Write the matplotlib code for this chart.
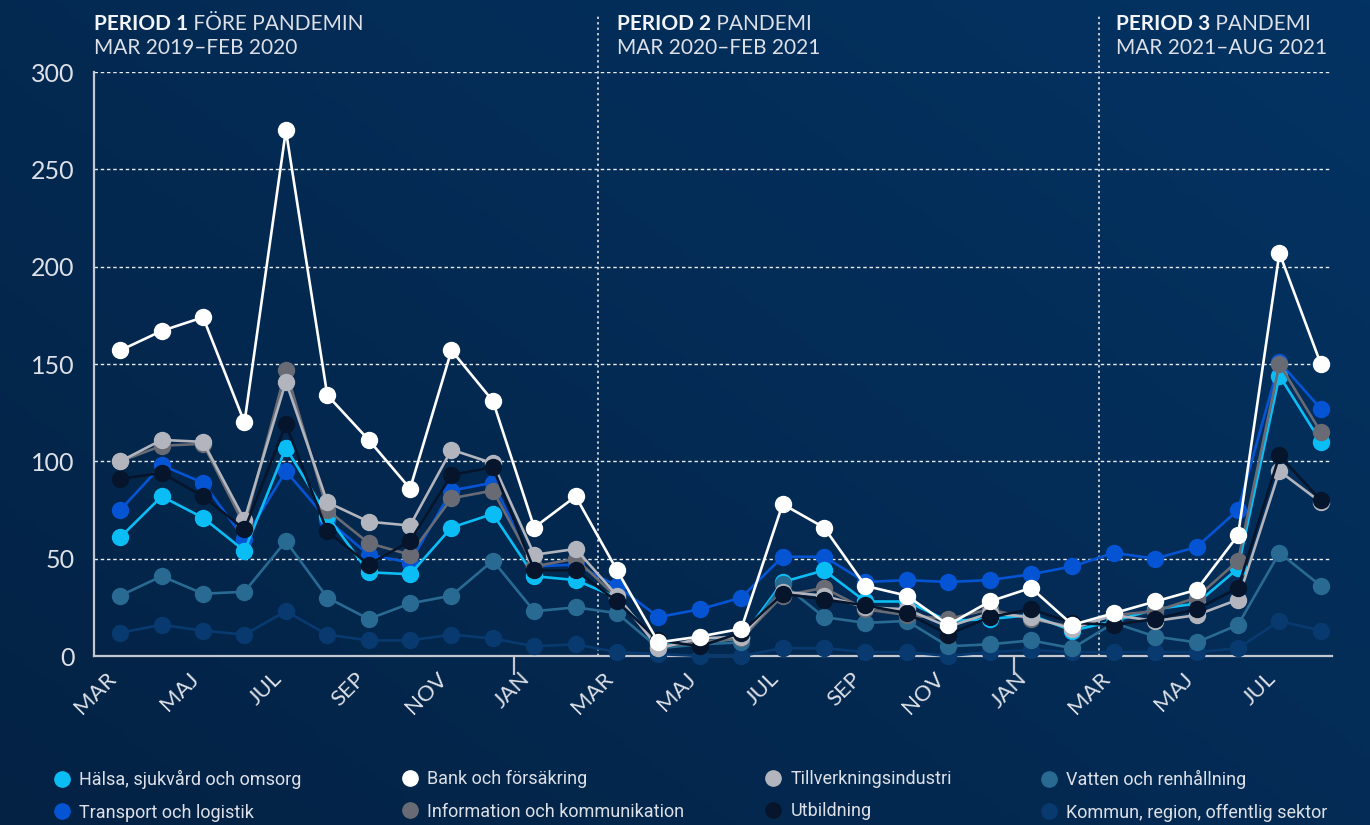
import matplotlib.pyplot as plt
import numpy as np

# months Mar 2019 - Aug 2021
months = ['MAR', 'APR', 'MAJ', 'JUN', 'JUL', 'AUG', 'SEP', 'OKT', 'NOV', 'DEC', 'JAN', 'FEB'] * 2 + \
         ['MAR', 'APR', 'MAJ', 'JUN', 'JUL', 'AUG']

halsa = [61, 82, 71, 54, 107, 72, 43, 42, 66, 73, 41, 39, 30, 6, 7, 9, 38, 44, 28, 28,
         18, 19, 21, 13, 18, 24, 27, 45, 144, 110]
transport = [75, 98, 89, 60, 95, 70, 52, 48, 85, 89, 46, 47, 36, 20, 24, 30, 51, 51, 38, 39,
             38, 39, 42, 46, 53, 50, 56, 75, 151, 127]
bank = [157, 167, 174, 120, 270, 134, 111, 86, 157, 131, 66, 82, 44, 7, 10, 14, 78, 66, 36, 31,
        16, 28, 35, 16, 22, 28, 34, 62, 207, 150]
information = [100, 108, 109, 67, 147, 75, 58, 52, 81, 85, 46, 50, 30, 5, 7, 9, 31, 35, 24, 21,
               19, 24, 19, 15, 21, 23, 30, 49, 150, 115]
tillverkning = [100, 111, 110, 70, 141, 79, 69, 67, 106, 99, 52, 55, 31, 4, 9, 10, 33, 31, 25, 24,
                15, 22, 20, 14, 21, 18, 21, 29, 95, 79]
utbildning = [91, 94, 82, 65, 119, 64, 47, 59, 93, 97, 44, 44, 28, 8, 5, 12, 32, 29, 26, 22,
              11, 20, 24, 17, 16, 19, 24, 35, 103, 80]
vatten = [31, 41, 32, 33, 59, 30, 19, 27, 31, 49, 23, 25, 22, 4, 6, 7, 37, 20, 17, 18,
          5, 6, 8, 4, 17, 10, 7, 16, 53, 36]
kommun = [12, 16, 13, 11, 23, 11, 8, 8, 11, 9, 5, 6, 2, 1, 0, 0, 4, 4, 2, 2,
          0, 2, 3, 2, 2, 2, 2, 4, 18, 13]

names = ['Hälsa, sjukvård och omsorg', 'Transport och logistik', 'Bank och försäkring',
         'Information och kommunikation', 'Tillverkningsindustri', 'Utbildning',
         'Vatten och renhållning', 'Kommun, region, offentlig sektor']
colors = {
    'Hälsa, sjukvård och omsorg': '#0bbdf5',
    'Transport och logistik': '#0454d4',
    'Bank och försäkring': '#ffffff',
    'Information och kommunikation': '#686b73',
    'Tillverkningsindustri': '#b2b5bd',
    'Utbildning': '#06152b',
    'Vatten och renhållning': '#286a92',
    'Kommun, region, offentlig sektor': '#083a70',
}
series = {
    'Hälsa, sjukvård och omsorg': halsa,
    'Transport och logistik': transport,
    'Bank och försäkring': bank,
    'Information och kommunikation': information,
    'Tillverkningsindustri': tillverkning,
    'Utbildning': utbildning,
    'Vatten och renhållning': vatten,
    'Kommun, region, offentlig sektor': kommun,
}
draw_order = ['Kommun, region, offentlig sektor', 'Transport och logistik',
              'Hälsa, sjukvård och omsorg', 'Vatten och renhållning',
              'Information och kommunikation', 'Tillverkningsindustri',
              'Utbildning', 'Bank och försäkring']

periods = [('PERIOD 1', ' FÖRE PANDEMIN', 'MAR 2019–FEB 2020'),
           ('PERIOD 2', ' PANDEMI', 'MAR 2020–FEB 2021'),
           ('PERIOD 3', ' PANDEMI', 'MAR 2021–AUG 2021')]

text_col = '#dde0e6'
line_col = '#c3c7cf'

fig = plt.figure(figsize=(13.7, 8.25), dpi=100)

# background gradient
bg = fig.add_axes([0, 0, 1, 1], zorder=-10)
gx, gy = np.meshgrid(np.linspace(0, 1, 200), np.linspace(0, 1, 200))
g = 0.55 * gx + 0.45 * gy
c0 = np.array([0x04, 0x22, 0x44]) / 255
c1 = np.array([0x03, 0x33, 0x63]) / 255
img = c0[None, None, :] * (1 - g[..., None]) + c1[None, None, :] * g[..., None]
bg.imshow(img, aspect='auto', extent=[0, 1, 0, 1], origin='lower')
bg.axis('off')

ax = fig.add_axes([94 / 1370, 1 - 656 / 825, (1332 - 94) / 1370, (656 - 72) / 825])
ax.set_facecolor('none')

x = np.arange(len(months))
for name in draw_order:
    ax.plot(x, series[name], color=colors[name], lw=1.9, marker='o', ms=11.5,
            clip_on=False, zorder=3)

ax.set_xlim(-0.635, 29.27)
ax.set_ylim(0, 300)
ax.set_yticks(range(0, 301, 50))
ax.grid(axis='y', color='#e8ebf0', ls=(0, (2.5, 2)), lw=1)
ax.set_axisbelow(True)

for s in ['top', 'right']:
    ax.spines[s].set_visible(False)
for s in ['left', 'bottom']:
    ax.spines[s].set_color(line_col)
    ax.spines[s].set_linewidth(1.6)

ax.set_xticks(x[::2])
ax.set_xticklabels(months[::2], rotation=45, ha='right', fontsize=16,
                   color=text_col, family='Lato')
ax.set_xticks([9.5, 21.6], minor=True)
ax.tick_params(axis='x', which='major', length=0, pad=9)
ax.tick_params(axis='x', which='minor', length=14, width=1.6, color=line_col)
ax.tick_params(axis='y', length=0, pad=14, labelsize=18, labelcolor=text_col)
for lab in ax.get_yticklabels():
    lab.set_family('Lato')

# period dividers
for xd in [11.55, 23.65]:
    ax.axvline(xd, ymin=0, ymax=1.1, color=line_col, ls=(0, (1.2, 1.6)), lw=1.4,
               clip_on=False, zorder=1)

# period labels
period_x = [-0.635, 12.0, 24.05]
trans = ax.get_xaxis_transform()
for (bold, rest, sub), px in zip(periods, period_x):
    t = ax.text(px, 1.1, bold, transform=trans, fontsize=15, fontweight='bold',
                family='Lato', color='#f2f4f7', va='top', ha='left')
    ax.annotate(rest, xy=(1, 0), xycoords=t, fontsize=15, family='Lato',
                color=text_col, va='bottom', ha='left')
    ax.text(px, 1.058, sub, transform=trans, fontsize=15, family='Lato',
            color=text_col, va='top', ha='left')

# legend: four columns of two entries
legend_cols = [(names[0], names[1]), (names[2], names[3]), (names[4], names[5]), (names[6], names[7])]
legend_x = [55 / 1370, 403 / 1370, 766 / 1370, 1042 / 1370]
for (n1, n2), lx in zip(legend_cols, legend_x):
    handles = [plt.Line2D([], [], ls='none', marker='o', ms=11, color=colors[n])
               for n in (n1, n2)]
    leg = fig.legend(handles, [n1, n2], loc='upper left', bbox_to_anchor=(lx, 1 - 770 / 825),
                     frameon=False, handlelength=0.8, handletextpad=0.55, labelspacing=0.8,
                     borderaxespad=0, borderpad=0,
                     prop={'family': 'Roboto', 'size': 13})
    for txt in leg.get_texts():
        txt.set_color(text_col)

fig.savefig('out.png', dpi=100, facecolor='#03264c')
